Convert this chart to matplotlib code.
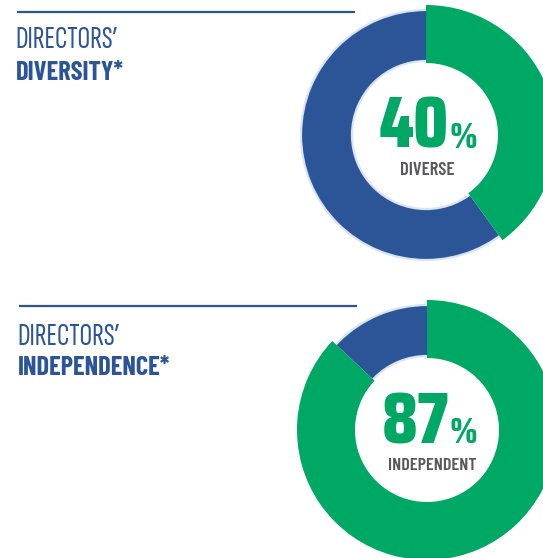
import math
import matplotlib
matplotlib.use("Agg")
import matplotlib.pyplot as plt
from matplotlib.font_manager import FontProperties, fontManager
from matplotlib.textpath import TextPath

# ---- data ----
panel_titles = ["DIRECTORS\u2019", "DIRECTORS\u2019"]
panel_subtitles = ["DIVERSITY*", "INDEPENDENCE*"]
share_labels = ["DIVERSE", "INDEPENDENT"]
diversity = [40, 60]        # diverse, not diverse (%)
independence = [87, 13]     # independent, not independent (%)

# ---- style ----
W, H = 543, 558
BLUE = "#2c5597"
GREEN = "#00a865"
OUTLINE = "#d9e4f4"
GRAY = "#58585a"

fig = plt.figure(figsize=(W / 100, H / 100), dpi=100)
ax = fig.add_axes([0, 0, 1, 1])
ax.set_xlim(0, W)
ax.set_ylim(0, H)
ax.set_aspect("equal")
ax.axis("off")
renderer = fig.canvas.get_renderer()

available = {(f.name, f.weight) for f in fontManager.ttflist}


def ink(s, fp):
    e = TextPath((0, 0), s, size=100, prop=fp).get_extents()
    return e.width / 100, e.height / 100, e.x0 / 100


def pick_font(sample, target_w, target_h, names, weights):
    best, best_err = None, None
    for name in names:
        for weight in weights:
            if (name, weight) not in available:
                continue
            fp = FontProperties(family=name, weight=weight)
            w, h, _ = ink(sample, fp)
            err = abs(math.log((w / h) / (target_w / target_h)))
            if best_err is None or err < best_err:
                best, best_err = fp, err
            break
    return best or FontProperties(family="DejaVu Sans", weight=weights[0])


def put(s, fp, left, baseline, cap_px, color):
    """Place text so its ink starts at `left` with the given ink height (pixels)."""
    w, h, x0 = ink(s, fp)
    size_px = cap_px / h
    return ax.text(left - x0 * size_px, H - baseline, s, fontproperties=fp,
                   fontsize=size_px * 0.72, color=color, va="baseline", ha="left")


def ink_width(s, fp, cap_px):
    w, h, _ = ink(s, fp)
    return w * cap_px / h


condensed = ["Pathway Gothic One", "Sofia Sans Extra Condensed", "Saira Extra Condensed",
             "Fira Sans Extra Condensed", "Barlow Condensed", "Oswald", "Antonio",
             "Roboto Condensed", "Asap Condensed", "Encode Sans Compressed",
             "Encode Sans Condensed", "Fira Sans Condensed", "Archivo Narrow",
             "IBM Plex Sans Condensed", "Saira Condensed", "Sofia Sans Condensed",
             "Barlow Semi Condensed", "League Gothic", "Fjalla One"]

fp_light = pick_font("DIRECTORS\u2019", 101, 21, condensed, [300, 250, 400])
fp_bold = pick_font("INDEPENDENCE*", 146, 20, condensed, [700, 800])
fp_num = pick_font("40", 62, 54, condensed, [800, 700, 900])
fp_mid = pick_font("INDEPENDENT", 82, 14, condensed, [600, 700, 500])

NUM_H, PCT_H = 52, 26

panels = [
    dict(values=diversity, cx=426, cy=135, rule_y=12, left=17,
         title_base=48, sub_base=80, num_cx=428, num_base=148,
         label_cx=428, label_base=175, label_w=50),
    dict(values=independence, cx=427, cy=430, rule_y=306, left=19,
         title_base=345, sub_base=375, num_cx=430, num_base=443,
         label_cx=432, label_base=470, label_w=82),
]

for i, p in enumerate(panels):
    cx, cy = p["cx"], H - p["cy"]
    total = sum(p["values"])

    # blue remainder ring
    wedges, _ = ax.pie(p["values"], center=(cx, cy), radius=125, startangle=90,
                       counterclock=False, colors=["none", BLUE], frame=True,
                       wedgeprops=dict(width=51, linewidth=0))
    wedges[0].set_visible(False)
    # pale rim around the ring
    ax.pie([total], center=(cx, cy), radius=125, startangle=90, frame=True,
           colors=["none"], wedgeprops=dict(width=51, edgecolor=OUTLINE, linewidth=1.6))
    # green highlighted share, a thicker ring on top
    wedges, _ = ax.pie(p["values"], center=(cx, cy), radius=130, startangle=90,
                       counterclock=False, colors=[GREEN, "none"], frame=True,
                       wedgeprops=dict(width=58, linewidth=0))
    wedges[1].set_visible(False)

    # header rule and titles
    ax.plot([p["left"], p["left"] + 338], [H - p["rule_y"]] * 2, color=BLUE,
            lw=1.6, solid_capstyle="butt")
    put(panel_titles[i], fp_light, p["left"], p["title_base"], 21, BLUE)
    put(panel_subtitles[i], fp_bold, p["left"], p["sub_base"], 20, BLUE)

    # centre figure: number followed by a smaller percent sign, centred as a group
    num = f"{p['values'][0]}"
    t = put(num, fp_num, 0, p["num_base"], NUM_H, GREEN)
    bb = t.get_window_extent(renderer)
    adv = bb.x1 - 0                      # ink-left to end of advance
    wp = ink_width("%", fp_num, PCT_H)
    _, ph, px0 = ink("%", fp_num)
    lead = px0 * PCT_H / ph              # left bearing of the percent sign
    group = adv + lead + wp
    left = p["num_cx"] - group / 2
    t.set_x(t.get_position()[0] + left)
    ax.text(left + adv, H - p["num_base"], "%", fontproperties=fp_num,
            fontsize=PCT_H / ph * 0.72, color=GREEN, va="baseline", ha="left")

    # caption under the figure, sized to its width
    lw_, lh_, _ = ink(share_labels[i], fp_mid)
    cap = min(14, p["label_w"] * lh_ / lw_ * 1.06)
    wl = ink_width(share_labels[i], fp_mid, cap)
    put(share_labels[i], fp_mid, p["label_cx"] - wl / 2, p["label_base"], cap, GRAY)

ax.set_xlim(0, W)
ax.set_ylim(0, H)
fig.savefig("out.png", dpi=100)
